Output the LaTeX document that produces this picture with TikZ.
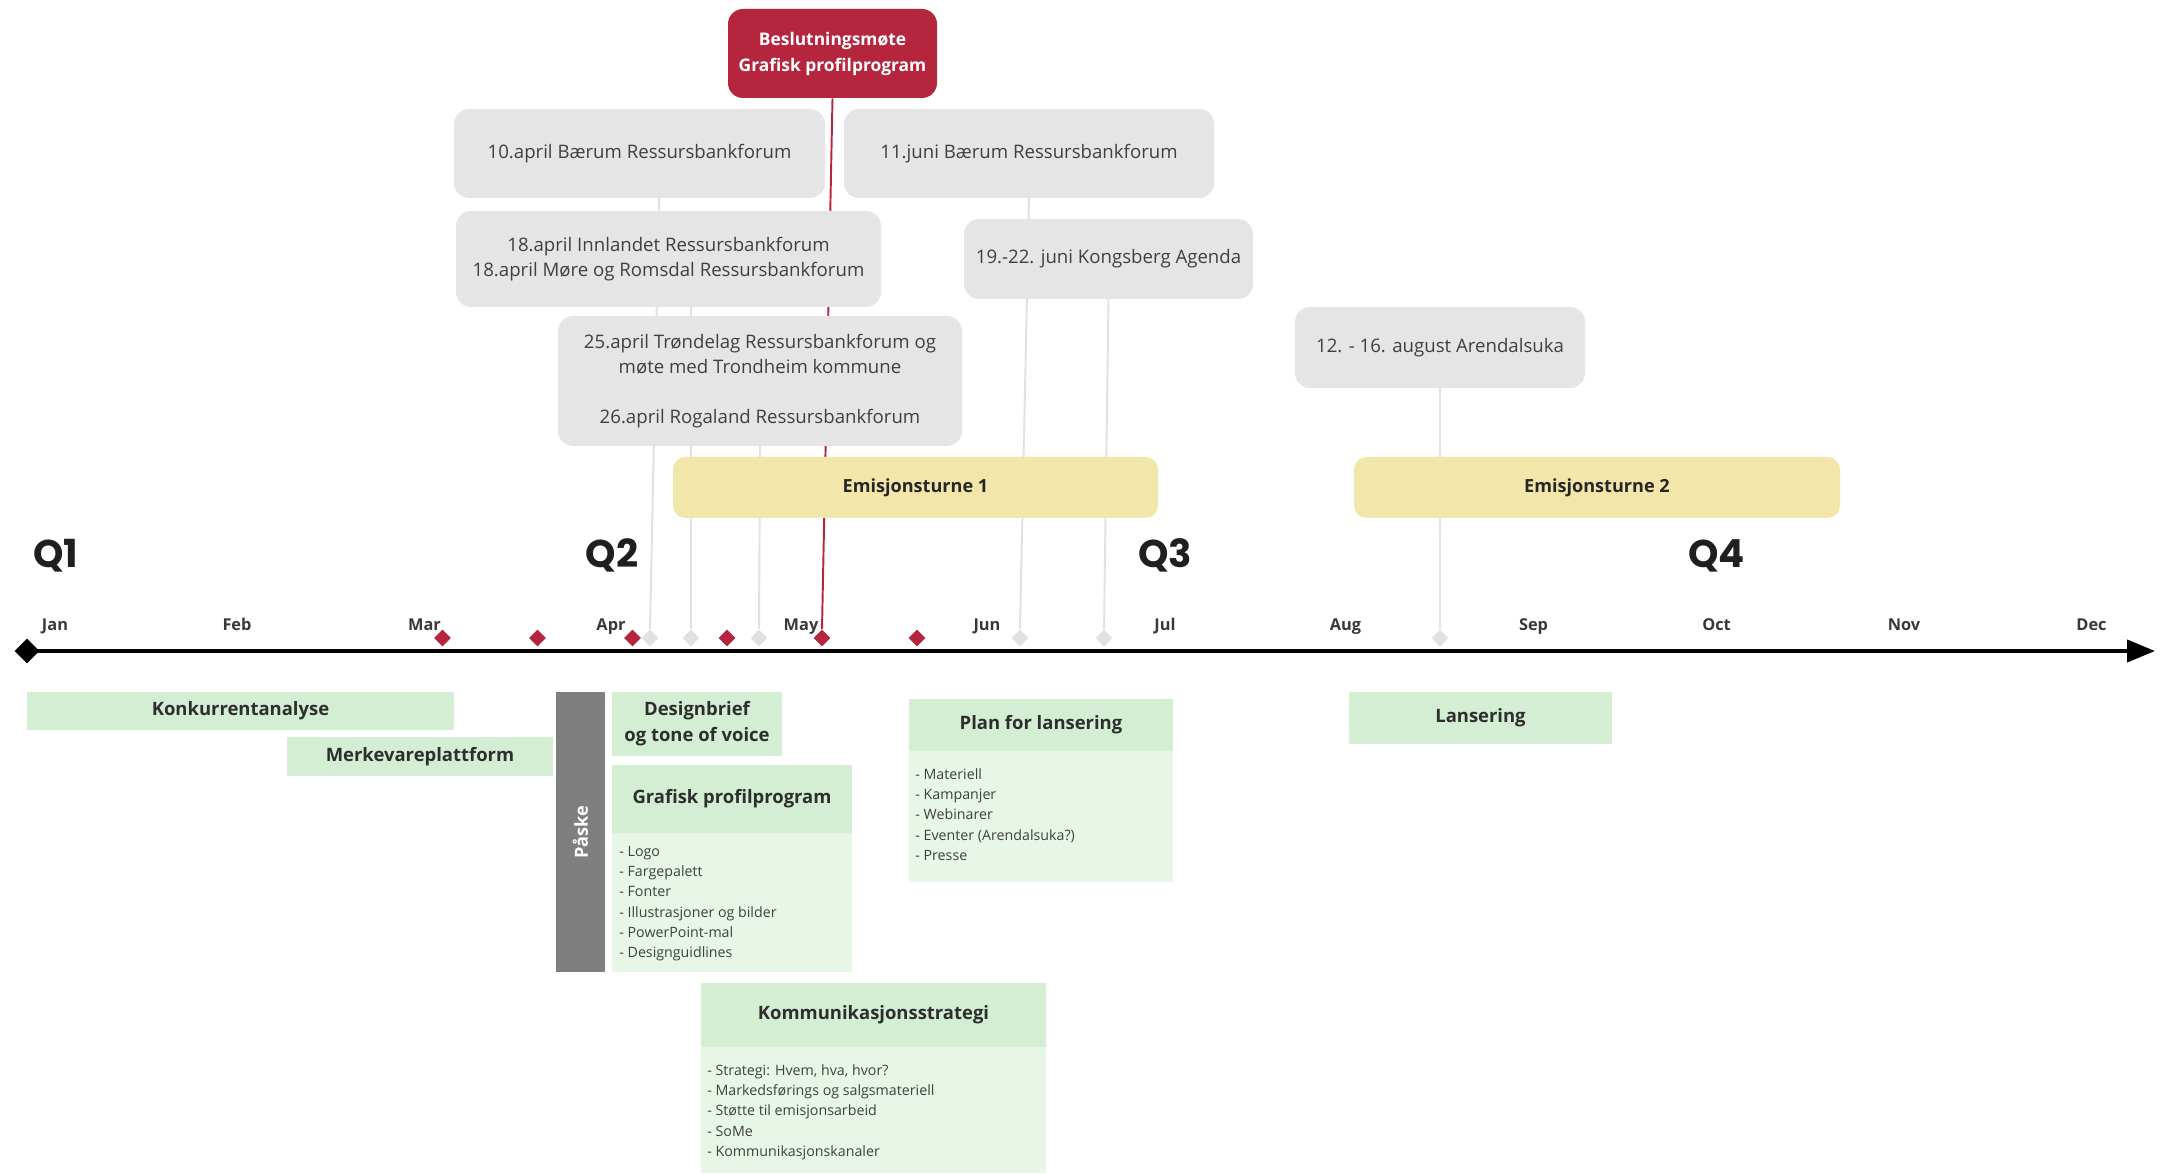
\documentclass[tikz,border=0pt]{standalone}
\usepackage{fontspec}
\setmainfont{Open Sans}
\newfontfamily\quarterfont{Poppins}
\usetikzlibrary{shapes.geometric,arrows.meta,positioning,backgrounds}
\definecolor{meetred}{RGB}{181, 38, 62}
\definecolor{eventgrey}{RGB}{229, 229, 229}
\definecolor{linegrey}{RGB}{225, 225, 225}
\definecolor{touryellow}{RGB}{243, 230, 170}
\definecolor{taskgreen}{RGB}{211, 238, 211}
\definecolor{bodygreen}{RGB}{232, 246, 232}
\definecolor{eastergrey}{RGB}{127, 127, 127}
\definecolor{textgrey}{RGB}{64, 64, 64}

\begin{document}
\begin{tikzpicture}[
  event/.style={rectangle, rounded corners=0.3cm, fill=eventgrey, text=textgrey, align=center, inner sep=0pt, outer sep=0pt, font=\fontsize{10.6}{14.6}\selectfont},
  tour/.style={rectangle, rounded corners=0.25cm, fill=touryellow, text=black!85, inner sep=0pt, font=\bfseries\fontsize{10.3}{13}\selectfont},
  task/.style={rectangle, fill=taskgreen, text=black!82, align=center, inner sep=0pt, outer sep=0pt, font=\bfseries\fontsize{10.5}{14.7}\selectfont},
  taskbody/.style={rectangle, fill=bodygreen, inner sep=0pt, outer sep=0pt},
  item/.style={anchor=base west, text=textgrey, inner sep=0pt, font=\fontsize{8.1}{10}\selectfont},
  month/.style={anchor=base, text=black!78, font=\bfseries\fontsize{9.3}{11}\selectfont},
  quarter/.style={anchor=base, text=black!88, font=\quarterfont\bfseries\fontsize{22}{24}\selectfont},
  reddot/.style={diamond, fill=meetred, minimum size=0.34cm, inner sep=0pt},
  greydot/.style={diamond, fill=linegrey, minimum size=0.34cm, inner sep=0pt},
  link/.style={linegrey, line width=1.1pt},
]
\useasboundingbox (0,0) rectangle (43.24,-23.48);

% Decision meeting
\node[rectangle, rounded corners=0.3cm, fill=meetred, text=white, align=center, minimum width=4.18cm, minimum height=1.78cm, font=\bfseries\fontsize{9.9}{14.8}\selectfont] (besl) at (16.65,-1.07) {Beslutningsmøte\\Grafisk profilprogram};

% Events
\node[event, minimum width=7.42cm, minimum height=1.78cm] (apr10) at (12.79,-3.07) {10.april Bærum Ressursbankforum};
\node[event, minimum width=7.40cm, minimum height=1.78cm] (jun11) at (20.58,-3.07) {11.juni Bærum Ressursbankforum};
\node[event, minimum width=8.50cm, minimum height=1.92cm] (apr18) at (13.37,-5.18) {18.april Innlandet Ressursbankforum\\18.april Møre og Romsdal Ressursbankforum};
\node[event, minimum width=5.78cm, minimum height=1.60cm] (kongsberg) at (22.17,-5.18) {19.-22. juni Kongsberg Agenda};
\node[event, minimum width=8.08cm, minimum height=2.60cm, font=\fontsize{10.6}{14.2}\selectfont] (apr25) at (15.20,-7.62) {25.april Trøndelag Ressursbankforum og\\møte med Trondheim kommune\\[14.2pt]26.april Rogaland Ressursbankforum};
\node[event, minimum width=5.80cm, minimum height=1.62cm] (arendal) at (28.80,-6.95) {12. - 16. august Arendalsuka};

% Emission tours
\node[tour, minimum width=9.70cm, minimum height=1.22cm] (tour1) at (18.31,-9.75) {Emisjonsturne 1};
\node[tour, minimum width=9.72cm, minimum height=1.22cm] (tour2) at (31.94,-9.75) {Emisjonsturne 2};

% Quarters
\node[quarter] (q1) at (1.12,-11.35) {Q1};
\node[quarter] (q2) at (12.24,-11.35) {Q2};
\node[quarter] (q3) at (23.30,-11.35) {Q3};
\node[quarter] (q4) at (34.33,-11.35) {Q4};

% Months
\foreach \m/\x in {Jan/1.10, Feb/4.74, Mar/8.49, Apr/12.22, May/16.02, Jun/19.74, Jul/23.30, Aug/26.91, Sep/30.67, Oct/34.33, Nov/38.08, Dec/41.83}
  \node[month] (m-\m) at (\x,-12.60) {\m};

% Timeline
\node[diamond, fill=black, minimum size=0.5cm, inner sep=0pt] (start) at (0.54,-13.02) {};
\coordinate (end) at (43.10,-13.02);
\draw[line width=2.3pt, -{Triangle[length=5.6mm, width=4.4mm]}] (start.center) -- (end);

% Milestones
\foreach \x [count=\i] in {13.00, 13.82, 15.18, 20.40, 22.08, 28.80}
  \node[greydot] (g\i) at (\x,-12.76) {};
\foreach \x [count=\i] in {8.85, 10.75, 12.65, 14.54, 16.44, 18.34}
  \node[reddot] (r\i) at (\x,-12.76) {};

% Event links
\coordinate (apr10foot) at (13.18,-3.96);
\begin{pgfonlayer}{background}
\draw[link] (apr10foot) -- (g1.north);
\draw[link] (g2.north) -- (g2 |- apr18.south);
\draw[link] (apr25.south) -- (g3.north);
\draw[link] (jun11.south) -- (g4.north);
\draw[link] (kongsberg.south) -- (g5.north);
\draw[link] (arendal.south) -- (g6.north);
\draw[meetred, line width=1.1pt] (besl.south) -- (r5.north);
\end{pgfonlayer}

% Tasks
\node[task, minimum width=8.54cm, minimum height=0.76cm] (konk) at (4.81,-14.22) {Konkurrentanalyse};
\node[task, minimum width=5.32cm, minimum height=0.78cm] (merke) at (8.40,-15.13) {Merkevareplattform};
\node[rectangle, fill=eastergrey, text=white, rotate=90, minimum width=5.60cm, minimum height=0.98cm, inner sep=0pt, font=\bfseries\fontsize{10.3}{12}\selectfont] (paske) at (11.61,-16.64) {Påske};
\node[task, minimum width=3.40cm, minimum height=1.28cm] (design) at (13.94,-14.48) {Designbrief\\og tone of voice};
\node[task, minimum width=5.26cm, minimum height=1.04cm] (lans) at (29.61,-14.36) {Lansering};

% Grafisk profilprogram
\node[task, minimum width=4.80cm, minimum height=1.36cm] (gfp) at (14.64,-15.98) {Grafisk profilprogram};
\node[taskbody, minimum width=4.80cm, minimum height=2.78cm, below=0pt of gfp] (gfpbody) {};
\foreach \t [count=\i] in {Logo, Fargepalett, Fonter, Illustrasjoner og bilder, PowerPoint-mal, Designguidlines}
  \node[item] (gfp-\i) at (12.38,-17.12-0.407*\i+0.407) {- \t};

% Plan for lansering
\node[task, minimum width=5.28cm, minimum height=1.04cm] (plan) at (20.82,-14.50) {Plan for lansering};
\node[taskbody, minimum width=5.28cm, minimum height=2.62cm, below=0pt of plan] (planbody) {};
\foreach \t [count=\i] in {Materiell, Kampanjer, Webinarer, Eventer (Arendalsuka?), Presse}
  \node[item] (plan-\i) at (18.30,-15.58-0.407*\i+0.407) {- \t};

% Kommunikasjonsstrategi
\node[task, minimum width=6.90cm, minimum height=1.28cm] (komm) at (17.47,-20.30) {Kommunikasjonsstrategi};
\node[taskbody, minimum width=6.90cm, minimum height=2.52cm, below=0pt of komm] (kommbody) {};
\foreach \t [count=\i] in {{Strategi: Hvem, hva, hvor?}, Markedsførings og salgsmateriell, Støtte til emisjonsarbeid, SoMe, Kommunikasjonskanaler}
  \node[item] (komm-\i) at (14.14,-21.50-0.407*\i+0.407) {- \t};
\end{tikzpicture}
\end{document}
